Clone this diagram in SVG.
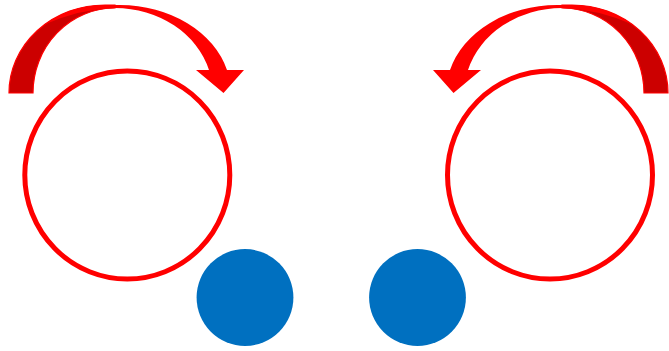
<svg xmlns="http://www.w3.org/2000/svg" width="669" height="351" viewBox="0 0 669 351">
<defs>
<style>
.ring{fill:none;stroke:#ff0000;stroke-width:5}
.dot{fill:#0070c0}
.back{fill:#cc0000;stroke:#ff0000;stroke-width:1.2}
.front{fill:#ff0000}
</style>
<g id="arrowShape">
<path class="back" d="M9,93 A96,88 0 0 1 105,5 L115,5 L115,8 A82,85 0 0 0 33,93 Z"/>
<path class="front" d="M45,24.3 A96,88 0 0 1 105,5 L120,5 A111,88 0 0 1 227,70 L244,70 L223.5,93 L196,70 L209,70 A98,85 0 0 0 115,8 Q80,9 45,24.3 Z"/>
</g>
</defs>
<rect width="669" height="351" fill="#ffffff"/>
<g id="arrow-left"><use href="#arrowShape"/></g>
<g id="arrow-right"><use href="#arrowShape" transform="translate(677,0) scale(-1,1)"/></g>
<g id="ring-left"><ellipse class="ring" cx="127.3" cy="175" rx="102.5" ry="104"/></g>
<g id="ring-right"><ellipse class="ring" cx="550" cy="175" rx="102.5" ry="104"/></g>
<g id="dot-left"><circle class="dot" cx="245" cy="297.5" r="48.4"/></g>
<g id="dot-right"><circle class="dot" cx="417.5" cy="297.5" r="48.4"/></g>
<g id="connectors"/>
</svg>
